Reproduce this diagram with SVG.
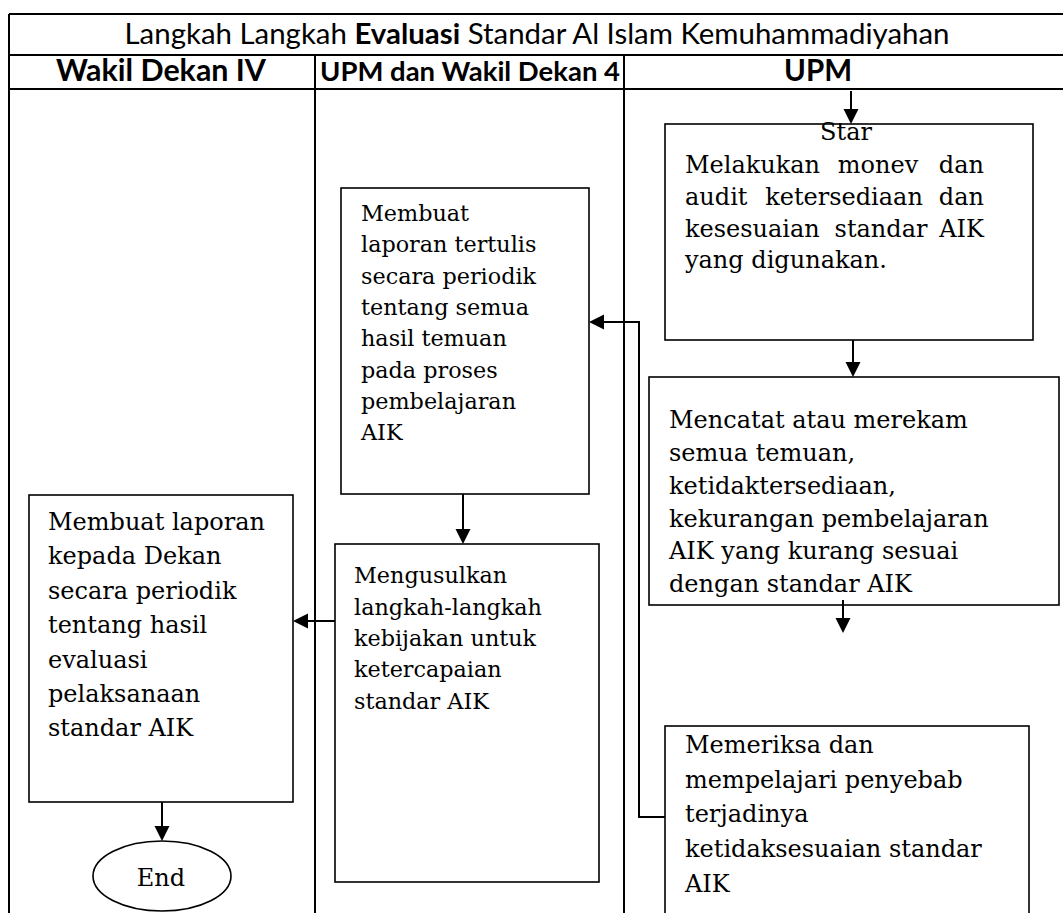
<svg xmlns="http://www.w3.org/2000/svg" width="1063" height="913" viewBox="0 0 1063 913">
<style>
.tbl{stroke:#000;stroke-width:2;fill:none}
.box{stroke:#000;stroke-width:1.6;fill:#fff}
.conn{stroke:#000;stroke-width:2;fill:none}
.arr{marker-end:url(#ah)}
.hd{font-family:Lato,"Liberation Sans",sans-serif;fill:#000}
.b{font-weight:bold}
.tx{font-family:"DejaVu Serif","Liberation Serif",serif;font-size:24px;fill:#000}
.sm{font-size:22.3px}
</style>
<defs>
<marker id="ah" markerUnits="userSpaceOnUse" markerWidth="16" markerHeight="16" refX="7" refY="7.5" orient="auto">
<path d="M0,0 L15,7.5 L0,15 z" fill="#000"/>
</marker>
</defs>
<rect width="1063" height="913" fill="#fff"/>
<g id="table">
<path class="tbl" d="M9,14 H1063 M9,55 H1063 M9,89 H1063 M9,14 V913 M315,55 V913 M624,55 V913"/>
<text class="hd" x="537" y="44" font-size="28" text-anchor="middle" textLength="825" lengthAdjust="spacingAndGlyphs">Langkah Langkah <tspan class="b">Evaluasi</tspan> Standar Al Islam Kemuhammadiyahan</text>
<text class="hd b" x="161" y="81" font-size="29.5" text-anchor="middle" textLength="210" lengthAdjust="spacingAndGlyphs">Wakil Dekan IV</text>
<text class="hd b" x="470" y="81" font-size="26.8" text-anchor="middle" textLength="300" lengthAdjust="spacingAndGlyphs">UPM dan Wakil Dekan 4</text>
<text class="hd b" x="818" y="81" font-size="29.5" text-anchor="middle" textLength="68" lengthAdjust="spacingAndGlyphs">UPM</text>
</g>
<g id="n-monev">
<rect class="box" x="665" y="124" width="368" height="216"/>
<text class="tx" x="846" y="140" text-anchor="middle">Star</text>
<text class="tx"><tspan x="685" y="173">Melakukan</tspan><tspan x="878" y="173" text-anchor="middle">monev</tspan><tspan x="984" y="173" text-anchor="end">dan</tspan><tspan x="685" y="205">audit</tspan><tspan x="844" y="205" text-anchor="middle">ketersediaan</tspan><tspan x="984" y="205" text-anchor="end">dan</tspan><tspan x="685" y="237">kesesuaian</tspan><tspan x="881" y="237" text-anchor="middle">standar</tspan><tspan x="984" y="237" text-anchor="end">AIK</tspan><tspan x="685" y="268">yang digunakan.</tspan></text>
</g>
<g id="n-mencatat">
<rect class="box" x="649" y="377" width="410" height="228"/>
<text class="tx"><tspan x="669" y="428">Mencatat atau merekam</tspan><tspan x="669" y="461">semua temuan,</tspan><tspan x="669" y="494">ketidaktersediaan,</tspan><tspan x="669" y="527">kekurangan pembelajaran</tspan><tspan x="669" y="559">AIK yang kurang sesuai</tspan><tspan x="669" y="592">dengan standar AIK</tspan></text>
</g>
<g id="n-memeriksa">
<rect class="box" x="665" y="726" width="364" height="210"/>
<text class="tx"><tspan x="685" y="753">Memeriksa dan</tspan><tspan x="685" y="788">mempelajari penyebab</tspan><tspan x="685" y="822">terjadinya</tspan><tspan x="685" y="857">ketidaksesuaian standar</tspan><tspan x="685" y="892">AIK</tspan></text>
</g>
<g id="n-laporan-tertulis">
<rect class="box" x="341" y="188" width="248" height="306"/>
<text class="tx sm"><tspan x="361" y="221">Membuat</tspan><tspan x="361" y="252.3">laporan tertulis</tspan><tspan x="361" y="283.6">secara periodik</tspan><tspan x="361" y="314.9">tentang semua</tspan><tspan x="361" y="346.2">hasil temuan</tspan><tspan x="361" y="377.5">pada proses</tspan><tspan x="361" y="408.8">pembelajaran</tspan><tspan x="361" y="440">AIK</tspan></text>
</g>
<g id="n-mengusulkan">
<rect class="box" x="335" y="544" width="264" height="338"/>
<text class="tx sm"><tspan x="354" y="583.3">Mengusulkan</tspan><tspan x="354" y="614.6">langkah-langkah</tspan><tspan x="354" y="646">kebijakan untuk</tspan><tspan x="354" y="677.3">ketercapaian</tspan><tspan x="354" y="708.6">standar AIK</tspan></text>
</g>
<g id="n-laporan-dekan">
<rect class="box" x="29" y="495" width="264" height="307"/>
<text class="tx"><tspan x="48" y="530">Membuat laporan</tspan><tspan x="48" y="564.4">kepada Dekan</tspan><tspan x="48" y="598.8">secara periodik</tspan><tspan x="48" y="633.2">tentang  hasil</tspan><tspan x="48" y="667.6">evaluasi</tspan><tspan x="48" y="702">pelaksanaan</tspan><tspan x="48" y="736.4">standar AIK</tspan></text>
</g>
<g id="n-end">
<ellipse class="box" cx="162" cy="876" rx="69" ry="35"/>
<text class="tx" x="161" y="886" text-anchor="middle">End</text>
</g>
<g id="connectors">
<path class="conn arr" d="M851,91 V116"/>
<path class="conn arr" d="M853,340 V369"/>
<path class="conn arr" d="M843,600 V625"/>
<path class="conn arr" d="M665,817 H639 V322 H597"/>
<path class="conn arr" d="M463,494 V536"/>
<path class="conn arr" d="M335,621 H301"/>
<path class="conn arr" d="M162,802 V833"/>
</g>
</svg>
